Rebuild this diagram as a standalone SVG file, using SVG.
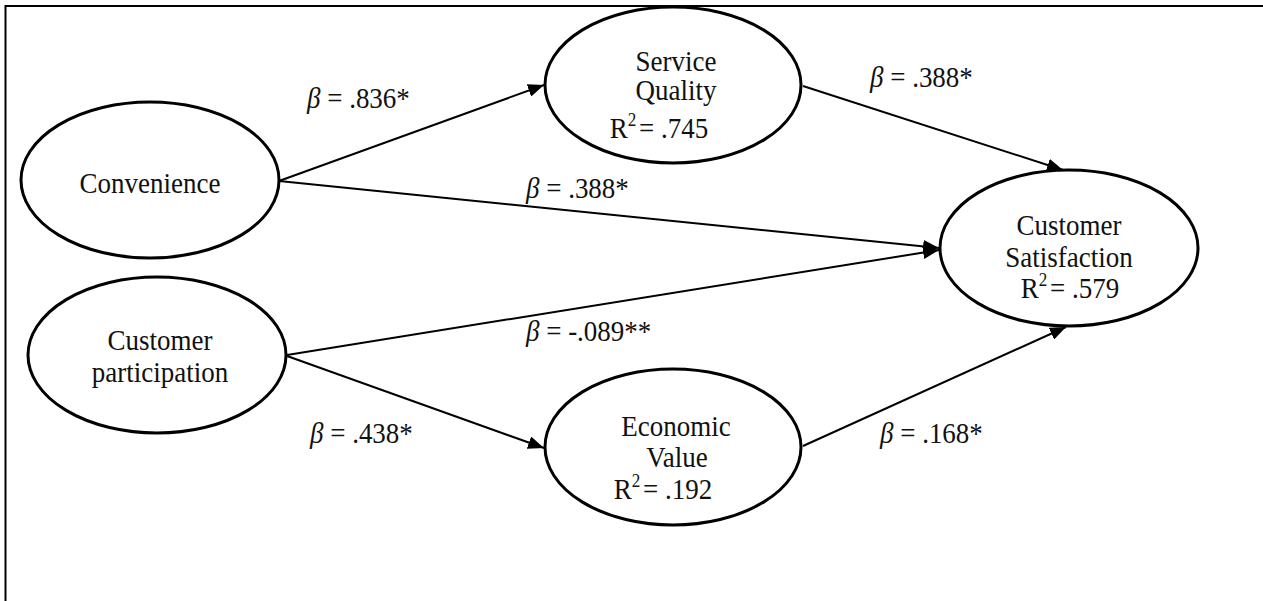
<svg xmlns="http://www.w3.org/2000/svg" width="1263" height="601" viewBox="0 0 1263 601">
<style>
.node{fill:#fff;stroke:#000;stroke-width:3}
.lbl{font-family:"Liberation Serif","Times New Roman",serif;font-size:30px;fill:#111;text-anchor:middle}
.beta{font-family:"Liberation Serif","Times New Roman",serif;font-size:30px;fill:#111}
.b{font-style:italic}
.edge{stroke:#000;stroke-width:2;fill:none;marker-end:url(#arr)}
</style>
<defs>
<marker id="arr" markerUnits="userSpaceOnUse" markerWidth="17" markerHeight="13" refX="16" refY="6.5" orient="auto">
<path d="M0,0 L16,6.5 L0,13 z" fill="#000"/>
</marker>
</defs>
<rect width="1263" height="601" fill="#fff"/>
<g id="frame" stroke="#000" stroke-width="2" fill="none">
<path d="M5.5,601 V6 H1263"/>
</g>
<g id="connectors">
<line class="edge" x1="279" y1="181" x2="544" y2="85"/>
<line class="edge" x1="279" y1="181" x2="939" y2="248"/>
<line class="edge" x1="803" y1="86" x2="1063" y2="170"/>
<line class="edge" x1="287" y1="355" x2="939" y2="250"/>
<line class="edge" x1="287" y1="356" x2="544" y2="448"/>
<line class="edge" x1="803" y1="446" x2="1066" y2="327"/>
</g>
<g id="labels">
<text class="beta" transform="translate(307,108) scale(0.9,1)"><tspan class="b">β</tspan> = .836*</text>
<text class="beta" transform="translate(526,198) scale(0.9,1)"><tspan class="b">β</tspan> = .388*</text>
<text class="beta" transform="translate(870,87) scale(0.9,1)"><tspan class="b">β</tspan> = .388*</text>
<text class="beta" transform="translate(526,341) scale(0.9,1)"><tspan class="b">β</tspan> = -.089**</text>
<text class="beta" transform="translate(310,443) scale(0.9,1)"><tspan class="b">β</tspan> = .438*</text>
<text class="beta" transform="translate(880,443) scale(0.9,1)"><tspan class="b">β</tspan> = .168*</text>
</g>
<g id="convenience">
<ellipse class="node" cx="150" cy="180" rx="129" ry="78"/>
<text class="lbl" transform="translate(150,193) scale(0.9,1)">Convenience</text>
</g>
<g id="service-quality">
<ellipse class="node" cx="673" cy="85" rx="128" ry="78"/>
<text class="lbl" transform="translate(676,71) scale(0.9,1)">Service</text>
<text class="lbl" transform="translate(676,100) scale(0.9,1)">Quality</text>
<text class="lbl" transform="translate(659,138) scale(0.9,1)">R<tspan font-size="19" dy="-12">2</tspan><tspan dy="12" dx="3">= .745</tspan></text>
</g>
<g id="customer-satisfaction">
<ellipse class="node" cx="1069" cy="248" rx="129" ry="78"/>
<text class="lbl" transform="translate(1069,235) scale(0.9,1)">Customer</text>
<text class="lbl" transform="translate(1069,267) scale(0.9,1)">Satisfaction</text>
<text class="lbl" transform="translate(1070,298) scale(0.9,1)">R<tspan font-size="19" dy="-12">2</tspan><tspan dy="12" dx="3">= .579</tspan></text>
</g>
<g id="customer-participation">
<ellipse class="node" cx="157" cy="355" rx="129" ry="78"/>
<text class="lbl" transform="translate(160,350) scale(0.9,1)">Customer</text>
<text class="lbl" transform="translate(160,382) scale(0.9,1)">participation</text>
</g>
<g id="economic-value">
<ellipse class="node" cx="673" cy="447" rx="128" ry="78"/>
<text class="lbl" transform="translate(676,436) scale(0.9,1)">Economic</text>
<text class="lbl" transform="translate(677,467) scale(0.9,1)">Value</text>
<text class="lbl" transform="translate(663,499) scale(0.9,1)">R<tspan font-size="19" dy="-12">2</tspan><tspan dy="12" dx="3">= .192</tspan></text>
</g>
</svg>
